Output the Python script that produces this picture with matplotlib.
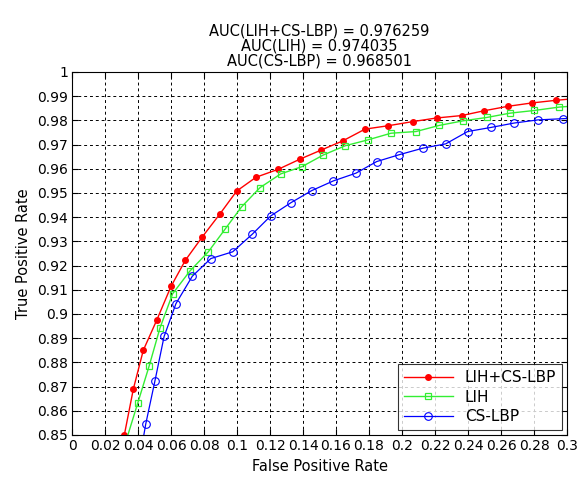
import numpy as np
import matplotlib
matplotlib.use('Agg')
import matplotlib.pyplot as plt
from matplotlib.ticker import FuncFormatter

# curvas ROC
fpr_comb = [0.0317, 0.0372, 0.0432, 0.0515, 0.0600, 0.0687, 0.0790, 0.0897, 0.0998,
            0.1115, 0.1250, 0.1382, 0.1512, 0.1640, 0.1776, 0.1917, 0.2065, 0.2210,
            0.2362, 0.2499, 0.2640, 0.2786, 0.2933, 0.3080]
tpr_comb = [0.8500, 0.8691, 0.8850, 0.8977, 0.9114, 0.9222, 0.9319, 0.9414, 0.9508,
            0.9565, 0.9598, 0.9640, 0.9678, 0.9715, 0.9764, 0.9778, 0.9795, 0.9810,
            0.9820, 0.9840, 0.9858, 0.9872, 0.9883, 0.9892]

fpr_lih = [0.0325, 0.0398, 0.0467, 0.0533, 0.0610, 0.0715, 0.0826, 0.0927, 0.1028,
           0.1139, 0.1265, 0.1394, 0.1523, 0.1655, 0.1796, 0.1933, 0.2085, 0.2224,
           0.2368, 0.2513, 0.2655, 0.2802, 0.2953, 0.3100]
tpr_lih = [0.8470, 0.8631, 0.8784, 0.8942, 0.9084, 0.9178, 0.9257, 0.9350, 0.9443,
           0.9522, 0.9579, 0.9609, 0.9657, 0.9695, 0.9720, 0.9747, 0.9754, 0.9779,
           0.9798, 0.9812, 0.9830, 0.9841, 0.9855, 0.9862]

fpr_cslbp = [0.0425, 0.0447, 0.0503, 0.0558, 0.0630, 0.0729, 0.0841, 0.0974, 0.1093,
             0.1204, 0.1327, 0.1453, 0.1584, 0.1721, 0.1847, 0.1982, 0.2125, 0.2265,
             0.2398, 0.2540, 0.2679, 0.2823, 0.2974, 0.3120]
tpr_cslbp = [0.8460, 0.8546, 0.8725, 0.8907, 0.9043, 0.9156, 0.9229, 0.9257, 0.9330,
             0.9405, 0.9460, 0.9510, 0.9550, 0.9582, 0.9630, 0.9658, 0.9685, 0.9703,
             0.9754, 0.9771, 0.9789, 0.9802, 0.9807, 0.9812]

auc = {'LIH+CS-LBP': 0.976259, 'LIH': 0.974035, 'CS-LBP': 0.968501}

xticks = np.round(np.arange(0, 0.301, 0.02), 2)
yticks = np.round(np.arange(0.85, 1.0001, 0.01), 2)

plt.rcParams['font.family'] = ['DejaVu Sans']

fig = plt.figure(figsize=(5.86, 4.79), dpi=100)
ax = fig.add_axes([0.1229, 0.0919, 0.8447, 0.7578])

ax.plot(fpr_comb, tpr_comb, '-o', color='red', mfc='red', mec='red',
        ms=4, lw=1, label='LIH+CS-LBP')
ax.plot(fpr_lih, tpr_lih, '-s', color='#33ee33', mfc='none', mec='#33ee33',
        ms=5, mew=0.9, lw=1, label='LIH')
ax.plot(fpr_cslbp, tpr_cslbp, '-o', color='blue', mfc='none', mec='blue',
        ms=5.5, mew=0.8, lw=0.9, label='CS-LBP')

ax.set_xlim(0, 0.3)
ax.set_ylim(0.85, 1)
ax.set_xticks(xticks)
ax.set_yticks(yticks)
fmt = FuncFormatter(lambda v, p: '%g' % round(v, 2))
ax.xaxis.set_major_formatter(fmt)
ax.yaxis.set_major_formatter(fmt)
ax.tick_params(direction='in', top=True, right=True, labelsize=10, length=4, pad=3)
ax.grid(True, color='black', linestyle=(0, (3, 3)), linewidth=0.7)
for s in ax.spines.values():
    s.set_linewidth(0.8)

ax.set_xlabel('False Positive Rate', fontsize=10.5)
ax.set_ylabel('True Positive Rate', fontsize=10.5)
ax.set_title('AUC(LIH+CS-LBP) = %g\nAUC(LIH) = %g\nAUC(CS-LBP) = %g'
             % (auc['LIH+CS-LBP'], auc['LIH'], auc['CS-LBP']),
             fontsize=10.5, linespacing=1.0, pad=5)

leg = ax.legend(loc='lower right', fontsize=11, fancybox=False, edgecolor='black',
                handlelength=3.2, borderaxespad=0.3, labelspacing=0.3)
leg.get_frame().set_linewidth(0.8)

fig.savefig('out.png', dpi=100)
